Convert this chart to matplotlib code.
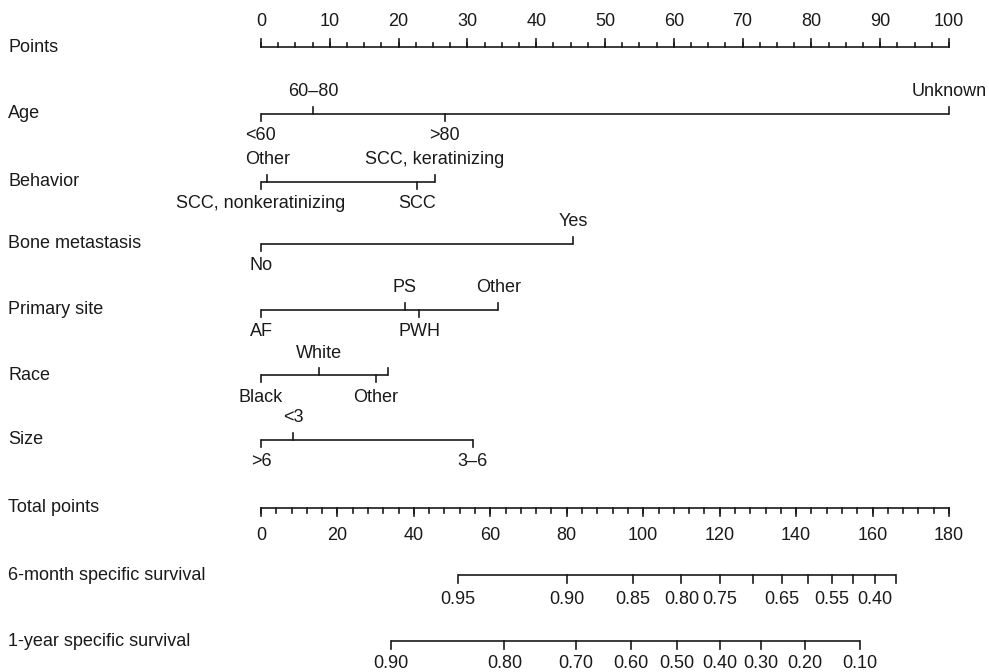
import numpy as np
import matplotlib.pyplot as plt

plt.rcParams['font.family'] = ['Liberation Sans', 'DejaVu Sans']

# --- data ---
points_major = np.arange(0, 101, 10)
points_minor = np.arange(0, 100.01, 2.5)

total_major = np.arange(0, 181, 20)
total_minor = np.arange(0, 181, 4)
total_max = 180

age_levels = ["<60", "60–80", ">80", "Unknown"]
age_pts = [0, 7.6, 26.7, 100]
age_above = [False, True, False, True]

behavior_levels = ["SCC, nonkeratinizing", "Other", "SCC", "SCC, keratinizing"]
behavior_pts = [0, 0.9, 22.7, 25.3]
behavior_above = [False, True, False, True]

bone_levels = ["No", "Yes"]
bone_pts = [0, 45.4]
bone_above = [False, True]

site_levels = ["AF", "PS", "PWH", "Other"]
site_pts = [0, 20.9, 23.0, 34.5]
site_above = [False, True, False, True]

race_levels = ["Black", "White", "Other", ""]
race_pts = [0, 8.4, 16.7, 18.4]
race_above = [False, True, False, True]

size_levels = [">6", "<3", "3–6"]
size_pts = [0, 4.7, 30.8]
size_above = [False, True, False]

surv6_labels = ["0.95", "0.90", "0.85", "0.80", "0.75", "", "0.65", "", "0.55", "", "0.40", ""]
surv6_total = [51.5, 80.1, 97.3, 110.0, 120.1, 128.7, 136.2, 143.1, 149.4, 154.9, 160.6, 166.1]

surv1_labels = ["0.90", "0.80", "0.70", "0.60", "0.50", "0.40", "0.30", "0.20", "0.10"]
surv1_total = [34.0, 63.7, 82.3, 96.8, 108.9, 120.0, 130.8, 142.4, 156.7]

# --- layout (pixel rows, figure is 989x672) ---
fig = plt.figure(figsize=(9.89, 6.72), dpi=100)
ax = fig.add_axes([0, 0, 1, 1])
px_per_pt = 6.88
ax.set_xlim(-261 / px_per_pt, (989 - 261) / px_per_pt)
ax.set_ylim(672, 0)
ax.axis('off')

FS = 13
LC = '#1a1a1a'
LW = 1.2
x_label = -253 / px_per_pt

rows = {
    "Points": 47, "Age": 114, "Behavior": 182, "Bone metastasis": 244,
    "Primary site": 310, "Race": 375, "Size": 440, "Total points": 508,
    "6-month specific survival": 575, "1-year specific survival": 641,
}
for name, y in rows.items():
    ax.text(x_label, y, name, fontsize=FS, color=LC, va='center', ha='left')


def scale_axis(y, major, minor, factor, up, lab_off):
    sgn = -1 if up else 1
    ax.plot([major[0] * factor, major[-1] * factor], [y, y], color=LC, lw=LW, solid_capstyle='butt')
    for v in minor:
        ax.plot([v * factor] * 2, [y, y + sgn * 4.5], color=LC, lw=LW)
    for v in major:
        ax.plot([v * factor] * 2, [y, y + sgn * 8], color=LC, lw=LW)
        ax.text(v * factor, y + sgn * lab_off, f"{v:g}", fontsize=FS, color=LC,
                ha='center', va='center')


def cat_axis(y, levels, pts, above):
    ax.plot([min(pts), max(pts)], [y, y], color=LC, lw=LW, solid_capstyle='butt')
    for lev, p, up in zip(levels, pts, above):
        sgn = -1 if up else 1
        ax.plot([p, p], [y, y + sgn * 7], color=LC, lw=LW)
        if lev:
            ax.text(p, y + sgn * 22, lev, fontsize=FS, color=LC, ha='center', va='center')


def surv_axis(y, labels, tps, lab_off):
    f = 100 / total_max
    ax.plot([tps[0] * f, tps[-1] * f], [y, y], color=LC, lw=LW, solid_capstyle='butt')
    for lab, t in zip(labels, tps):
        ax.plot([t * f] * 2, [y, y + 8], color=LC, lw=LW)
        if lab:
            ax.text(t * f, y + lab_off, lab, fontsize=FS, color=LC, ha='center', va='center')


scale_axis(rows["Points"], points_major, points_minor, 1.0, True, 25)
cat_axis(rows["Age"], age_levels, age_pts, age_above)
cat_axis(rows["Behavior"], behavior_levels, behavior_pts, behavior_above)
cat_axis(rows["Bone metastasis"], bone_levels, bone_pts, bone_above)
cat_axis(rows["Primary site"], site_levels, site_pts, site_above)
cat_axis(rows["Race"], race_levels, race_pts, race_above)
cat_axis(rows["Size"], size_levels, size_pts, size_above)
scale_axis(rows["Total points"], total_major, total_minor, 100 / total_max, False, 28)
surv_axis(rows["6-month specific survival"], surv6_labels, surv6_total, 25)
surv_axis(rows["1-year specific survival"], surv1_labels, surv1_total, 22)

fig.savefig('out.png', dpi=100)
